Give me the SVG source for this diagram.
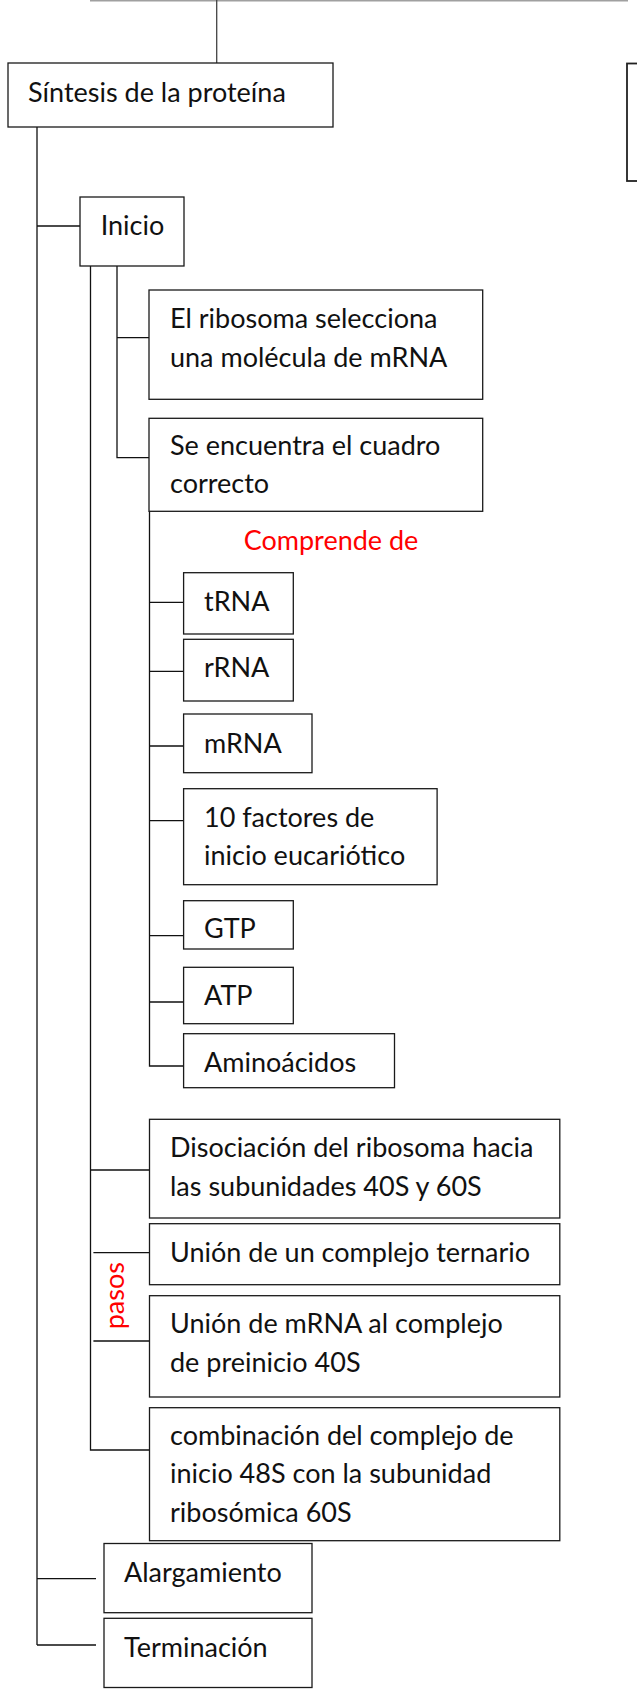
<svg xmlns="http://www.w3.org/2000/svg" width="637" height="1691" viewBox="0 0 637 1691">
<style>
.box{fill:#fff;stroke:#1a1a1a;stroke-width:1.3}
.t{font-family:Lato,"Liberation Sans",sans-serif;font-size:27px;fill:#111}
.red{font-family:Lato,"Liberation Sans",sans-serif;font-size:27px;fill:#ff0000}
.ln{stroke:#111;stroke-width:1.3;fill:none}
</style>
<rect width="637" height="1691" fill="#fff"/>
<g id="connectors">
<line x1="90" y1="0.8" x2="628" y2="0.8" stroke="#a0a0a0" stroke-width="1.6"/>
<line x1="216.7" y1="0" x2="216.7" y2="71" stroke="#444" stroke-width="1.3"/>
<path class="ln" d="M37,127 V1645 M37,226 H80 M37,1578.7 H96 M37,1645 H96"/>
<path class="ln" d="M90.5,266 V1450 H149.5 M90.5,1170 H149.5 M93.4,1252.7 H149.5 M93.4,1341 H149.5"/>
<path class="ln" d="M117,266 V457.7 H149 M117,337.7 H149"/>
<path class="ln" d="M149.5,511 V1066 H183.6 M149.5,602.3 H183.6 M149.5,671.3 H183.6 M149.5,746 H183.6 M149.5,820.7 H183.6 M149.5,935.7 H183.6 M149.5,1002 H183.6"/>
</g>
<g id="right-box"><rect x="627" y="63.5" width="20" height="117.5" fill="#fff" stroke="#222" stroke-width="1.8"/></g>
<g id="sintesis"><rect class="box" x="8" y="63" width="325" height="64"/><text class="t" x="28" y="101.5">Síntesis de la proteína</text></g>
<g id="inicio"><rect class="box" x="80" y="197" width="104" height="69"/><text class="t" x="100.7" y="235">Inicio</text></g>
<g id="ribosoma"><rect class="box" x="149" y="290" width="333.7" height="109.3"/><text class="t" x="170" y="328.3">El ribosoma selecciona</text><text class="t" x="170" y="366.7">una molécula de mRNA</text></g>
<g id="encuentra"><rect class="box" x="149" y="418.3" width="333.7" height="93"/><text class="t" x="170" y="455">Se encuentra el cuadro</text><text class="t" x="170" y="493.3">correcto</text></g>
<g id="comprende"><text class="red" x="243.7" y="550">Comprende de</text></g>
<g id="trna"><rect class="box" x="183.6" y="572.7" width="109.7" height="61.3"/><text class="t" x="204" y="610.7">tRNA</text></g>
<g id="rrna"><rect class="box" x="183.6" y="639.3" width="109.7" height="61.7"/><text class="t" x="204" y="677.3">rRNA</text></g>
<g id="mrna"><rect class="box" x="183.6" y="714" width="128.4" height="58.7"/><text class="t" x="204" y="752.7">mRNA</text></g>
<g id="factores"><rect class="box" x="183.6" y="788.7" width="253.5" height="96"/><text class="t" x="204" y="826.7">10 factores de</text><text class="t" x="204" y="865">inicio eucariótico</text></g>
<g id="gtp"><rect class="box" x="183.6" y="900.7" width="109.7" height="48.3"/><text class="t" x="204" y="938.3">GTP</text></g>
<g id="atp"><rect class="box" x="183.6" y="967.3" width="109.7" height="56.4"/><text class="t" x="204" y="1005">ATP</text></g>
<g id="aminoacidos"><rect class="box" x="183.6" y="1033.7" width="210.9" height="54"/><text class="t" x="204" y="1071.7">Aminoácidos</text></g>
<g id="disociacion"><rect class="box" x="149.5" y="1119.3" width="410.3" height="98.7"/><text class="t" x="170" y="1156.7">Disociación del ribosoma hacia</text><text class="t" x="170" y="1196">las subunidades 40S y 60S</text></g>
<g id="ternario"><rect class="box" x="149.5" y="1223.7" width="410.3" height="61"/><text class="t" x="170" y="1261.7">Unión de un complejo ternario</text></g>
<g id="pasos"><text class="red" transform="translate(124,1329.3) rotate(-90)" x="0" y="0">pasos</text></g>
<g id="union-mrna"><rect class="box" x="149.5" y="1295.7" width="410.3" height="101.3"/><text class="t" x="170" y="1333.3">Unión de mRNA al complejo</text><text class="t" x="170" y="1371.7">de preinicio 40S</text></g>
<g id="combinacion"><rect class="box" x="149.5" y="1407.7" width="410.3" height="133"/><text class="t" x="170" y="1445">combinación del complejo de</text><text class="t" x="170" y="1483.3">inicio 48S con la subunidad</text><text class="t" x="170" y="1521.7">ribosómica 60S</text></g>
<g id="alargamiento"><rect class="box" x="104" y="1543.5" width="208" height="69.2"/><text class="t" x="124" y="1581.7">Alargamiento</text></g>
<g id="terminacion"><rect class="box" x="104" y="1618.3" width="208" height="69.2"/><text class="t" x="124" y="1656.7">Terminación</text></g>
</svg>
